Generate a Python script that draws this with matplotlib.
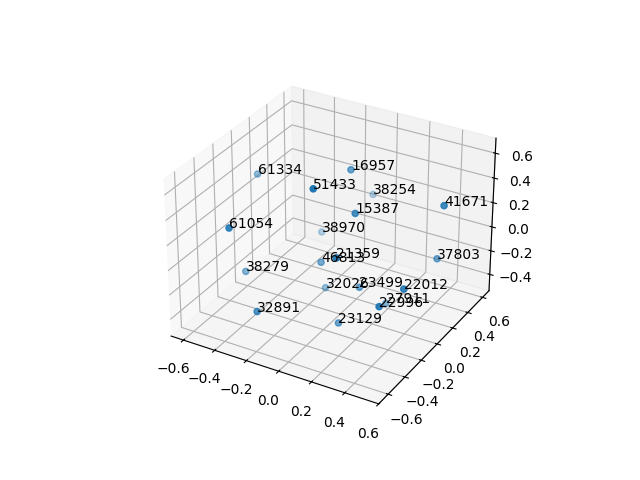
#!/usr/bin/env python
import matplotlib
matplotlib.use('Agg')
import matplotlib.pyplot as plt

labels=['61334','16957','51433','38254','41671','15387','61054','38970','21359','46813',
        '37803','38279','32026','23499','22012','27911','22996','32891','23129']
xs=[-0.537,-0.022,-0.021,-0.043,0.536,0.115,-0.391,-0.237,0.149,-0.065,
    0.481,-0.431,-0.081,0.173,0.473,0.265,0.401,-0.215,0.125]
ys=[0.033,0.166,-0.27,0.481,0.175,-0.047,-0.534,0.227,-0.33,-0.103,
    0.226,-0.302,-0.022,-0.104,-0.171,0.038,-0.319,-0.557,-0.259]
zs=[0.399,0.54,0.635,0.155,0.45,0.363,0.346,-0.081,0.191,-0.067,
    -0.028,-0.162,-0.335,-0.178,-0.029,-0.365,-0.105,-0.243,-0.392]

fig=plt.figure(figsize=(6.4,4.8))
ax=fig.add_subplot(projection='3d')
ax.scatter(xs,ys,zs)
for x,y,z,lab in zip(xs,ys,zs,labels):
    ax.text(x,y,z,lab)
ax.set_xlim(-0.68,0.60)
ax.set_ylim(-0.71,0.69)
ax.set_zlim(-0.54,0.72)
fig.savefig('out.png',dpi=100)
